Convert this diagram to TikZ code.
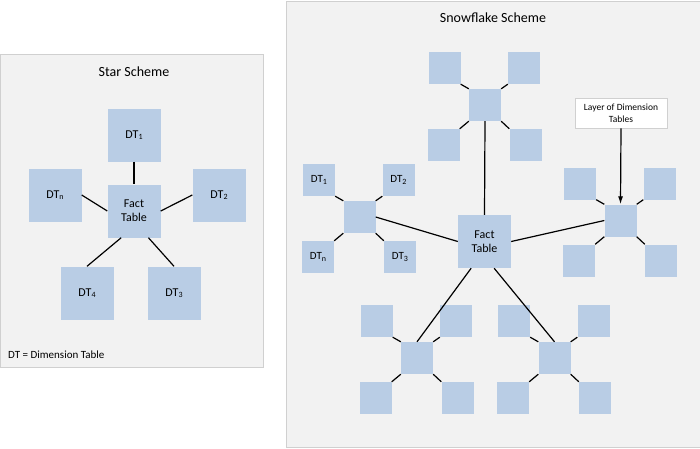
\documentclass[tikz,border=0pt]{standalone}
\usepackage{fontspec}
\setmainfont{Carlito}
\usetikzlibrary{calc,arrows.meta}
\definecolor{panelfill}{HTML}{F2F2F2}
\definecolor{paneldraw}{HTML}{D0D0D0}
\definecolor{boxblue}{HTML}{B9CDE5}
\newcommand{\sbs}[1]{{\fontsize{8}{8}\selectfont\raisebox{-0.35ex}{#1}}}
\tikzset{
  bigsq/.style={rectangle, fill=boxblue, minimum width=53pt, minimum height=53pt, inner sep=0pt, font=\fontsize{12}{14}\selectfont, align=center},
  smallsq/.style={rectangle, fill=boxblue, minimum width=32pt, minimum height=32pt, inner sep=0pt, font=\fontsize{11}{13}\selectfont},
  link/.style={line width=1.2pt, black},
  title/.style={font=\fontsize{14}{16}\selectfont},
}
% #1 prefix, #2 x, #3 y, #4..#7 labels TL TR BL BR
\newcommand{\snowcluster}[7]{%
  \node[smallsq] (#1c) at (#2,#3) {};
  \node[smallsq] (#1a) at ($(#1c)+(-40.5,-37)$) {#4};
  \node[smallsq] (#1b) at ($(#1c)+(39,-37)$) {#5};
  \node[smallsq] (#1d) at ($(#1c)+(-41.5,40)$) {#6};
  \node[smallsq] (#1e) at ($(#1c)+(40.5,40)$) {#7};
  \draw[link] (#1a.south east) -- (#1c.north west);
  \draw[link] (#1b.south west) -- (#1c.north east);
  \draw[link] (#1d.north east) -- (#1c.south west);
  \draw[link] (#1e.north west) -- (#1c.south east);
}
\begin{document}
\begin{tikzpicture}[x=1pt,y=-1pt]
\useasboundingbox (0,0) rectangle (700,448);
\fill[white] (0,0) rectangle (700,448);
% panels
\filldraw[fill=panelfill, draw=paneldraw, line width=0.8pt] (0.5,54) rectangle (263,367);
\fill[panelfill] (286,1) rectangle (700,447);
\draw[paneldraw, line width=0.8pt] (700,1) -- (286,1) -- (286,447) -- (700,447);

% Star scheme
\node[title] (startitle) at (134,72) {Star Scheme};
\node[bigsq] (sfact) at (134,211) {Fact\\Table};
\node[bigsq] (sdt1) at (134,135) {DT\sbs{1}};
\node[bigsq] (sdtn) at (55,195) {DT\sbs{n}};
\node[bigsq] (sdt2) at (219,195) {DT\sbs{2}};
\node[bigsq] (sdt4) at (87,293) {DT\sbs{4}};
\node[bigsq] (sdt3) at (174,293) {DT\sbs{3}};
\draw[link] (sdt1.south) -- (sfact.north);
\draw[link] (sdtn.east) -- (sfact.west);
\draw[link] (sdt2.west) -- (sfact.east);
\draw[link] (sdt4.north) -- ($(sfact.south west)!0.26!(sfact.south east)$);
\draw[link] (sdt3.north) -- ($(sfact.south west)!0.77!(sfact.south east)$);
\node[anchor=west, font=\fontsize{11}{13}\selectfont, inner sep=0pt] (legend) at (8,355) {DT = Dimension Table};

% Snowflake scheme
\node[title] (snowtitle) at (493,18) {Snowflake Scheme};
\node[bigsq] (ffact) at (484.5,241.5) {Fact\\Table};
\snowcluster{top}{485}{105}{}{}{}{}
\snowcluster{lft}{359.5}{217}{DT\sbs{1}}{DT\sbs{2}}{DT\sbs{n}}{DT\sbs{3}}
\snowcluster{rgt}{620.5}{220.5}{}{}{}{}
\snowcluster{bl}{417}{358}{}{}{}{}
\snowcluster{br}{554.5}{358}{}{}{}{}
\draw[link] (topc.south) -- (ffact.north);
\draw[link] (lftc.east) -- (ffact.west);
\draw[link] (ffact.east) -- (rgtc.west);
\draw[link] ($(ffact.south west)!0.25!(ffact.south east)$) -- (blc.north);
\draw[link] ($(ffact.south west)!0.68!(ffact.south east)$) -- (brc.north);
\node[rectangle, fill=white, draw=paneldraw, line width=0.6pt, minimum width=92pt, minimum height=30pt, inner sep=1pt, align=center, font=\fontsize{9.5}{12}\selectfont] (layer) at (621,113) {Layer of Dimension\\Tables};
\draw[link, -{Latex[length=8pt,width=5pt]}] (layer.south) -- (rgtc.north);
\end{tikzpicture}
\end{document}
